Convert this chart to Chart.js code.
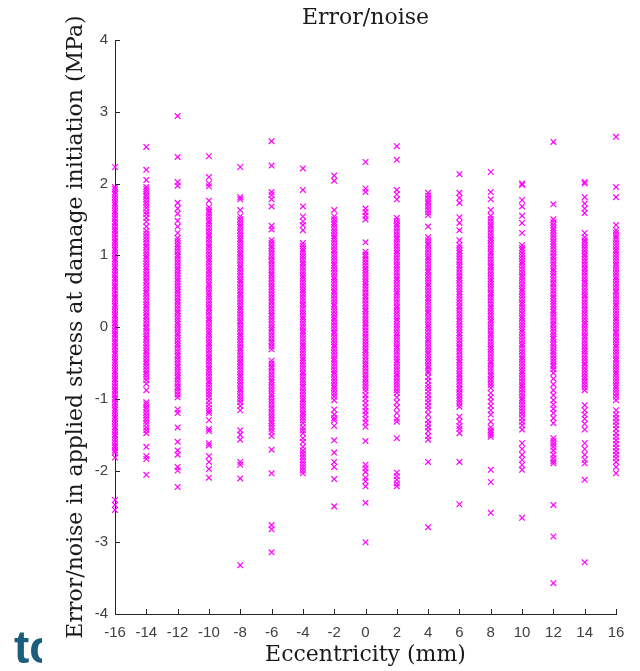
<!DOCTYPE html>
<html>
<head>
<meta charset="utf-8">
<title>Error/noise</title>
<script src="https://cdn.jsdelivr.net/npm/chart.js@4.4.1/dist/chart.umd.min.js"></script>
<style>
  body { margin: 0; background: #fff; }
  #wrap { position: relative; width: 640px; height: 671px; }
  #logo {
    position: absolute; left: 14px; top: 624px; width: 28px; height: 47px;
    overflow: hidden; color: #1b5d7c; font: bold 46px 'Liberation Sans', sans-serif; line-height: 46px;
  }
</style>
</head>
<body>
<div id="wrap">
  <canvas id="errorChart" width="640" height="671"></canvas>
  <div id="logo">tc</div>
</div>
<script>
// Eccentricity positions (mm)
const eccentricity = [-16, -14, -12, -10, -8, -6, -4, -2, 0, 2, 4, 6, 8, 10, 12, 14, 16];

// Error/noise values (MPa) read per eccentricity column
const errM16 = [2.23, 1.95, 1.92, 1.88, 1.85, 1.81, 1.77, 1.73, 1.70, 1.66, 1.62, 1.59, 1.55, 1.51, 1.47, 1.44, 1.40, 1.36, 1.33, 1.29, 1.25, 1.21, 1.18, 1.14, 1.10, 1.07, 1.03, 0.99, 0.95, 0.92, 0.88, 0.84, 0.81, 0.77, 0.73, 0.69, 0.66, 0.62, 0.58, 0.55, 0.51, 0.47, 0.43, 0.40, 0.36, 0.32, 0.29, 0.25, 0.21, 0.17, 0.14, 0.10, 0.06, 0.03, -0.01, -0.05, -0.09, -0.12, -0.16, -0.20, -0.23, -0.27, -0.31, -0.35, -0.38, -0.42, -0.46, -0.49, -0.53, -0.57, -0.61, -0.64, -0.68, -0.72, -0.75, -0.79, -0.83, -0.87, -0.90, -0.94, -0.98, -1.01, -1.05, -1.09, -1.13, -1.16, -1.20, -1.24, -1.27, -1.31, -1.35, -1.39, -1.42, -1.46, -1.50, -1.53, -1.57, -1.61, -1.65, -1.68, -1.72, -1.75, -1.82, -2.41, -2.48, -2.55];
const errM14 = [2.51, 2.19, 2.05, 1.95, 1.92, 1.89, 1.85, 1.82, 1.78, 1.74, 1.70, 1.66, 1.61, 1.57, 1.52, 1.47, 1.40, 1.34, 1.30, 1.26, 1.22, 1.18, 1.14, 1.11, 1.07, 1.03, 0.99, 0.96, 0.92, 0.88, 0.84, 0.81, 0.77, 0.73, 0.69, 0.65, 0.62, 0.58, 0.54, 0.50, 0.47, 0.43, 0.39, 0.35, 0.31, 0.28, 0.24, 0.20, 0.16, 0.13, 0.09, 0.05, 0.01, -0.02, -0.06, -0.10, -0.14, -0.17, -0.21, -0.25, -0.29, -0.33, -0.36, -0.40, -0.44, -0.48, -0.51, -0.55, -0.59, -0.63, -0.66, -0.70, -0.74, -0.79, -0.88, -1.05, -1.08, -1.12, -1.15, -1.19, -1.23, -1.27, -1.31, -1.35, -1.40, -1.44, -1.48, -1.67, -1.80, -1.84, -2.06];
const errM12 = [2.94, 2.37, 2.02, 1.97, 1.73, 1.65, 1.58, 1.48, 1.40, 1.31, 1.24, 1.20, 1.16, 1.13, 1.09, 1.05, 1.01, 0.98, 0.94, 0.90, 0.86, 0.82, 0.79, 0.75, 0.71, 0.67, 0.64, 0.60, 0.56, 0.52, 0.49, 0.45, 0.41, 0.37, 0.34, 0.30, 0.26, 0.22, 0.19, 0.15, 0.11, 0.07, 0.04, 0.00, -0.04, -0.08, -0.11, -0.15, -0.19, -0.23, -0.26, -0.30, -0.34, -0.38, -0.41, -0.45, -0.49, -0.53, -0.56, -0.60, -0.64, -0.68, -0.71, -0.75, -0.79, -0.83, -0.86, -0.90, -0.94, -0.98, -1.15, -1.20, -1.40, -1.60, -1.72, -1.78, -1.95, -2.00, -2.23];
const errM10 = [2.38, 2.09, 2.00, 1.96, 1.76, 1.67, 1.63, 1.60, 1.56, 1.52, 1.48, 1.45, 1.41, 1.37, 1.33, 1.29, 1.26, 1.22, 1.18, 1.14, 1.11, 1.07, 1.03, 0.99, 0.95, 0.92, 0.88, 0.84, 0.80, 0.77, 0.73, 0.69, 0.65, 0.61, 0.58, 0.54, 0.50, 0.46, 0.43, 0.39, 0.35, 0.31, 0.27, 0.24, 0.20, 0.16, 0.12, 0.09, 0.05, 0.01, -0.03, -0.07, -0.10, -0.14, -0.18, -0.22, -0.25, -0.29, -0.33, -0.37, -0.41, -0.44, -0.48, -0.52, -0.56, -0.59, -0.63, -0.67, -0.71, -0.75, -0.78, -0.82, -0.86, -0.90, -0.94, -0.98, -1.03, -1.08, -1.13, -1.17, -1.20, -1.30, -1.42, -1.45, -1.62, -1.65, -1.80, -1.88, -1.98, -2.10];
const errM8 = [2.23, 1.81, 1.78, 1.63, 1.54, 1.50, 1.46, 1.42, 1.39, 1.35, 1.31, 1.27, 1.23, 1.20, 1.16, 1.12, 1.08, 1.04, 1.01, 0.97, 0.93, 0.89, 0.85, 0.82, 0.78, 0.74, 0.70, 0.66, 0.63, 0.59, 0.55, 0.51, 0.47, 0.44, 0.40, 0.36, 0.32, 0.28, 0.25, 0.21, 0.17, 0.13, 0.09, 0.06, 0.02, -0.02, -0.06, -0.10, -0.13, -0.17, -0.21, -0.25, -0.29, -0.32, -0.36, -0.40, -0.44, -0.48, -0.51, -0.55, -0.59, -0.63, -0.67, -0.70, -0.74, -0.78, -0.82, -0.86, -0.89, -0.93, -0.97, -1.01, -1.05, -1.10, -1.16, -1.44, -1.50, -1.57, -1.88, -1.92, -2.11, -3.32];
const errM6 = [2.59, 2.25, 1.88, 1.84, 1.78, 1.68, 1.41, 1.36, 1.21, 1.17, 1.13, 1.10, 1.06, 1.02, 0.98, 0.94, 0.91, 0.87, 0.83, 0.79, 0.75, 0.72, 0.68, 0.64, 0.60, 0.56, 0.53, 0.49, 0.45, 0.41, 0.37, 0.34, 0.30, 0.26, 0.22, 0.18, 0.15, 0.11, 0.07, 0.03, -0.01, -0.04, -0.08, -0.12, -0.16, -0.20, -0.23, -0.27, -0.31, -0.47, -0.51, -0.55, -0.58, -0.62, -0.66, -0.70, -0.74, -0.77, -0.81, -0.85, -0.89, -0.93, -0.96, -1.00, -1.04, -1.08, -1.12, -1.15, -1.19, -1.23, -1.27, -1.31, -1.34, -1.38, -1.42, -1.46, -1.52, -1.71, -2.04, -2.76, -2.82, -3.14];
const errM4 = [2.21, 1.91, 1.68, 1.54, 1.47, 1.42, 1.35, 1.17, 1.13, 1.09, 1.06, 1.02, 0.98, 0.94, 0.90, 0.87, 0.83, 0.79, 0.75, 0.71, 0.68, 0.64, 0.60, 0.56, 0.52, 0.49, 0.45, 0.41, 0.37, 0.33, 0.30, 0.26, 0.22, 0.18, 0.14, 0.11, 0.07, 0.03, -0.01, -0.05, -0.08, -0.12, -0.16, -0.20, -0.24, -0.27, -0.31, -0.35, -0.39, -0.43, -0.46, -0.50, -0.54, -0.58, -0.62, -0.65, -0.69, -0.73, -0.77, -0.81, -0.84, -0.88, -0.92, -0.96, -1.00, -1.03, -1.07, -1.11, -1.15, -1.19, -1.22, -1.26, -1.30, -1.34, -1.40, -1.44, -1.48, -1.55, -1.60, -1.67, -1.72, -1.76, -1.80, -1.84, -1.88, -1.92, -1.96, -2.00, -2.04];
const errM2 = [2.11, 2.04, 1.63, 1.54, 1.50, 1.46, 1.43, 1.39, 1.35, 1.31, 1.27, 1.24, 1.20, 1.16, 1.12, 1.08, 1.05, 1.01, 0.97, 0.93, 0.89, 0.86, 0.82, 0.78, 0.74, 0.70, 0.67, 0.63, 0.59, 0.55, 0.51, 0.48, 0.44, 0.40, 0.36, 0.32, 0.29, 0.25, 0.21, 0.17, 0.13, 0.10, 0.06, 0.02, -0.02, -0.06, -0.09, -0.13, -0.17, -0.21, -0.25, -0.28, -0.32, -0.36, -0.40, -0.44, -0.47, -0.51, -0.55, -0.59, -0.63, -0.66, -0.70, -0.74, -0.78, -0.82, -0.85, -0.89, -0.93, -0.97, -1.02, -1.15, -1.22, -1.27, -1.30, -1.38, -1.58, -1.75, -1.88, -1.95, -2.12, -2.50];
const err0 = [2.30, 1.93, 1.88, 1.65, 1.60, 1.55, 1.50, 1.18, 1.05, 1.01, 0.98, 0.94, 0.90, 0.86, 0.82, 0.79, 0.75, 0.71, 0.67, 0.63, 0.60, 0.56, 0.52, 0.48, 0.44, 0.41, 0.37, 0.33, 0.29, 0.25, 0.22, 0.18, 0.14, 0.10, 0.06, 0.03, -0.01, -0.05, -0.09, -0.13, -0.16, -0.20, -0.24, -0.28, -0.32, -0.35, -0.39, -0.43, -0.47, -0.51, -0.54, -0.58, -0.62, -0.66, -0.70, -0.73, -0.77, -0.81, -0.85, -0.89, -0.95, -1.00, -1.06, -1.12, -1.17, -1.22, -1.28, -1.33, -1.39, -1.59, -1.92, -1.97, -2.02, -2.10, -2.15, -2.22, -2.45, -3.00];
const errP2 = [2.52, 2.33, 1.91, 1.85, 1.78, 1.52, 1.48, 1.44, 1.41, 1.37, 1.33, 1.29, 1.25, 1.22, 1.18, 1.14, 1.10, 1.06, 1.03, 0.99, 0.95, 0.91, 0.87, 0.84, 0.80, 0.76, 0.72, 0.68, 0.65, 0.61, 0.57, 0.53, 0.49, 0.46, 0.42, 0.38, 0.34, 0.30, 0.27, 0.23, 0.19, 0.15, 0.11, 0.08, 0.04, 0.00, -0.04, -0.08, -0.11, -0.15, -0.19, -0.23, -0.27, -0.30, -0.34, -0.38, -0.42, -0.46, -0.49, -0.53, -0.57, -0.61, -0.65, -0.68, -0.72, -0.76, -0.80, -0.84, -0.88, -0.92, -0.98, -1.05, -1.12, -1.20, -1.28, -1.32, -1.55, -2.03, -2.08, -2.13, -2.18, -2.22];
const errP4 = [1.87, 1.83, 1.79, 1.75, 1.72, 1.68, 1.64, 1.60, 1.56, 1.40, 1.25, 1.21, 1.17, 1.14, 1.10, 1.06, 1.02, 0.98, 0.95, 0.91, 0.87, 0.83, 0.79, 0.76, 0.72, 0.68, 0.64, 0.60, 0.57, 0.53, 0.49, 0.45, 0.41, 0.38, 0.34, 0.30, 0.26, 0.22, 0.19, 0.15, 0.11, 0.07, 0.03, 0.00, -0.04, -0.08, -0.12, -0.16, -0.19, -0.23, -0.27, -0.31, -0.35, -0.38, -0.42, -0.46, -0.50, -0.54, -0.57, -0.61, -0.64, -0.70, -0.75, -0.81, -0.85, -0.90, -0.95, -1.00, -1.05, -1.10, -1.15, -1.22, -1.30, -1.35, -1.40, -1.45, -1.52, -1.57, -1.88, -2.79];
const errP6 = [2.13, 1.87, 1.80, 1.73, 1.53, 1.45, 1.35, 1.21, 1.14, 1.10, 1.06, 1.03, 0.99, 0.95, 0.91, 0.87, 0.84, 0.80, 0.76, 0.72, 0.68, 0.65, 0.61, 0.57, 0.53, 0.49, 0.46, 0.42, 0.38, 0.34, 0.30, 0.27, 0.23, 0.19, 0.15, 0.11, 0.08, 0.04, 0.00, -0.04, -0.08, -0.11, -0.15, -0.19, -0.23, -0.27, -0.30, -0.34, -0.38, -0.42, -0.46, -0.49, -0.53, -0.57, -0.61, -0.65, -0.68, -0.72, -0.76, -0.80, -0.84, -0.87, -0.91, -0.95, -0.99, -1.03, -1.07, -1.11, -1.25, -1.32, -1.38, -1.42, -1.48, -1.88, -2.47];
const errP8 = [2.16, 1.88, 1.78, 1.63, 1.55, 1.51, 1.47, 1.43, 1.40, 1.36, 1.32, 1.28, 1.24, 1.21, 1.17, 1.13, 1.09, 1.05, 1.02, 0.98, 0.94, 0.90, 0.86, 0.83, 0.79, 0.75, 0.71, 0.67, 0.64, 0.60, 0.56, 0.52, 0.48, 0.45, 0.41, 0.37, 0.33, 0.29, 0.26, 0.22, 0.18, 0.14, 0.10, 0.07, 0.03, -0.01, -0.05, -0.09, -0.12, -0.16, -0.20, -0.24, -0.28, -0.31, -0.35, -0.39, -0.43, -0.47, -0.50, -0.54, -0.58, -0.62, -0.66, -0.69, -0.73, -0.77, -0.81, -0.85, -0.92, -0.98, -1.04, -1.10, -1.16, -1.22, -1.32, -1.40, -1.44, -1.47, -1.50, -1.53, -1.99, -2.16, -2.59];
const errP10 = [2.00, 1.98, 1.77, 1.68, 1.55, 1.45, 1.31, 1.14, 1.10, 1.07, 1.03, 0.99, 0.95, 0.91, 0.88, 0.84, 0.80, 0.76, 0.72, 0.69, 0.65, 0.61, 0.57, 0.53, 0.50, 0.46, 0.42, 0.38, 0.34, 0.31, 0.27, 0.23, 0.19, 0.15, 0.12, 0.08, 0.04, 0.00, -0.04, -0.07, -0.11, -0.15, -0.19, -0.23, -0.26, -0.30, -0.34, -0.38, -0.42, -0.45, -0.49, -0.53, -0.57, -0.61, -0.64, -0.68, -0.72, -0.76, -0.80, -0.83, -0.87, -0.91, -0.95, -0.99, -1.02, -1.06, -1.10, -1.14, -1.18, -1.22, -1.27, -1.32, -1.37, -1.43, -1.62, -1.70, -1.78, -1.85, -1.92, -1.99, -2.66];
const errP12 = [2.58, 1.71, 1.50, 1.46, 1.42, 1.38, 1.35, 1.31, 1.27, 1.23, 1.19, 1.16, 1.12, 1.08, 1.04, 1.00, 0.97, 0.93, 0.89, 0.85, 0.81, 0.78, 0.74, 0.70, 0.66, 0.62, 0.59, 0.55, 0.51, 0.47, 0.43, 0.40, 0.36, 0.32, 0.28, 0.24, 0.21, 0.17, 0.13, 0.09, 0.05, 0.02, -0.02, -0.06, -0.10, -0.14, -0.17, -0.21, -0.25, -0.29, -0.33, -0.36, -0.40, -0.44, -0.48, -0.52, -0.55, -0.59, -0.64, -0.72, -0.80, -0.88, -0.95, -1.02, -1.08, -1.14, -1.20, -1.27, -1.34, -1.55, -1.59, -1.63, -1.67, -1.72, -1.78, -1.83, -1.87, -1.90, -2.48, -2.92, -3.57];
const errP14 = [2.02, 2.00, 1.81, 1.72, 1.65, 1.59, 1.31, 1.25, 1.21, 1.18, 1.14, 1.10, 1.06, 1.02, 0.99, 0.95, 0.91, 0.87, 0.83, 0.80, 0.76, 0.72, 0.68, 0.64, 0.61, 0.57, 0.53, 0.49, 0.45, 0.42, 0.38, 0.34, 0.30, 0.26, 0.23, 0.19, 0.15, 0.11, 0.07, 0.04, 0.00, -0.04, -0.08, -0.12, -0.15, -0.19, -0.23, -0.27, -0.31, -0.34, -0.38, -0.42, -0.46, -0.50, -0.53, -0.57, -0.61, -0.65, -0.69, -0.72, -0.76, -0.80, -0.84, -0.88, -1.09, -1.16, -1.22, -1.28, -1.35, -1.43, -1.62, -1.70, -1.78, -1.85, -1.90, -2.13, -3.28];
const errP16 = [2.65, 1.95, 1.81, 1.42, 1.35, 1.31, 1.27, 1.24, 1.20, 1.16, 1.12, 1.08, 1.05, 1.01, 0.97, 0.93, 0.89, 0.86, 0.82, 0.78, 0.74, 0.70, 0.67, 0.63, 0.59, 0.55, 0.51, 0.48, 0.44, 0.40, 0.36, 0.32, 0.29, 0.25, 0.21, 0.17, 0.13, 0.10, 0.06, 0.02, -0.02, -0.06, -0.09, -0.13, -0.17, -0.21, -0.25, -0.28, -0.32, -0.36, -0.40, -0.44, -0.47, -0.51, -0.55, -0.59, -0.63, -0.66, -0.70, -0.74, -0.78, -0.82, -0.85, -0.89, -0.93, -0.97, -1.02, -1.16, -1.22, -1.27, -1.32, -1.37, -1.42, -1.48, -1.53, -1.58, -1.63, -1.68, -1.73, -1.78, -1.83, -1.88, -1.95, -2.04];

const columns = [errM16, errM14, errM12, errM10, errM8, errM6, errM4, errM2, err0,
                 errP2, errP4, errP6, errP8, errP10, errP12, errP14, errP16];

// Axis tick values
const xTicks = [-16, -14, -12, -10, -8, -6, -4, -2, 0, 2, 4, 6, 8, 10, 12, 14, 16];
const yTicks = [-4, -3, -2, -1, 0, 1, 2, 3, 4];

// Build scatter points from columns
const points = [];
eccentricity.forEach((e, i) => {
    columns[i].forEach(v => points.push({ x: e, y: v }));
});

const axisColor = '#262626';
const markColor = '#ff00ff';

// Draw short inward tick marks (MATLAB style)
const innerTicks = {
    id: 'innerTicks',
    afterDatasetsDraw(chart) {
        const { ctx, chartArea, scales } = chart;
        ctx.save();
        ctx.strokeStyle = axisColor;
        ctx.lineWidth = 1;
        ctx.beginPath();
        xTicks.forEach(t => {
            const px = Math.round(scales.x.getPixelForValue(t)) + 0.5;
            ctx.moveTo(px, chartArea.bottom);
            ctx.lineTo(px, chartArea.bottom - 5);
        });
        yTicks.forEach(t => {
            const py = Math.round(scales.y.getPixelForValue(t)) + 0.5;
            ctx.moveTo(chartArea.left, py);
            ctx.lineTo(chartArea.left + 5, py);
        });
        ctx.stroke();
        ctx.restore();
    }
};

const ctx = document.getElementById('errorChart').getContext('2d');

new Chart(ctx, {
    type: 'scatter',
    data: {
        datasets: [{
            label: 'Error/noise',
            data: points,
            pointStyle: 'crossRot',
            pointRadius: 4,
            pointHoverRadius: 4,
            pointBorderWidth: 1.2,
            pointHoverBorderWidth: 1.2,
            pointBorderColor: markColor,
            pointBackgroundColor: markColor,
            pointHoverBorderColor: markColor,
            pointHoverBackgroundColor: markColor,
            borderColor: markColor,
            backgroundColor: markColor,
            clip: false
        }]
    },
    options: {
        responsive: false,
        animation: false,
        events: [],
        devicePixelRatio: 1,
        layout: { padding: { left: 0, right: 24, top: 0, bottom: 0 } },
        plugins: {
            legend: { display: false },
            tooltip: { enabled: false },
            title: {
                display: true,
                fullSize: false,
                text: 'Error/noise',
                color: '#1a1a1a',
                font: { family: 'DejaVu Serif', size: 22, weight: 'normal' },
                padding: { top: 5, bottom: 8.6 }
            }
        },
        scales: {
            x: {
                type: 'linear',
                min: -16,
                max: 16,
                afterFit: s => { s.height = 57; },
                afterBuildTicks: s => { s.ticks = xTicks.map(v => ({ value: v })); },
                grid: { display: false, drawTicks: false },
                border: { display: true, color: axisColor, width: 1 },
                ticks: {
                    padding: 10,
                    color: '#404040',
                    maxRotation: 0,
                    autoSkip: false,
                    font: { family: 'Liberation Sans', size: 15 }
                },
                title: {
                    display: true,
                    text: 'Eccentricity (mm)',
                    color: '#1a1a1a',
                    font: { family: 'DejaVu Serif', size: 22 },
                    padding: { top: 0, bottom: 3 }
                }
            },
            y: {
                type: 'linear',
                min: -4,
                max: 4,
                afterFit: s => { s.width = 115; },
                afterBuildTicks: s => { s.ticks = yTicks.map(v => ({ value: v })); },
                grid: { display: false, drawTicks: false },
                border: { display: true, color: axisColor, width: 1 },
                ticks: {
                    padding: 7,
                    color: '#404040',
                    font: { family: 'Liberation Sans', size: 15 }
                },
                title: {
                    display: true,
                    text: 'Error/noise in applied stress at damage initiation (MPa)',
                    color: '#1a1a1a',
                    font: { family: 'DejaVu Serif', size: 22 },
                    padding: { top: 63, bottom: 0 }
                }
            }
        }
    },
    plugins: [innerTicks]
});
</script>
</body>
</html>
